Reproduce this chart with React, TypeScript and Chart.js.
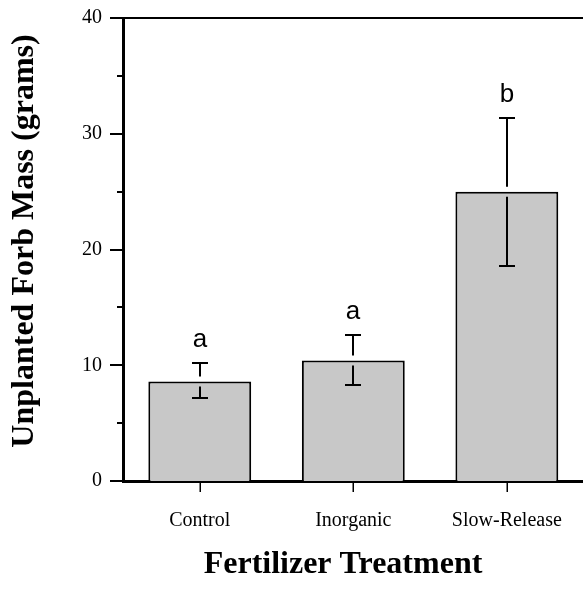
import React, { useEffect, useRef } from "react";
import { Chart, registerables } from "chart.js";

Chart.register(...registerables);

// Mean unplanted forb mass per fertilizer treatment, with error bar extents
const treatments = ["Control", "Inorganic", "Slow-Release"];
const meanMass = [8.6, 10.4, 25.0];
const errorUp = [1.6, 2.2, 6.35];
const errorDown = [1.45, 2.1, 6.4];
const groupLetters = ["a", "a", "b"];
const yMajorTicks = [0, 10, 20, 30, 40];
const yMinorTicks = [5, 15, 25, 35];

const SERIF = '"Liberation Serif", "Times New Roman", serif';
const SANS = '"Liberation Sans", Arial, sans-serif';

const xTitle = "Fertilizer Treatment";
const yTitle = "Unplanted Forb Mass (grams)";

// Draws the frame line, tick marks, error bars, group letters and axis titles
const decorations = {
  id: "decorations",
  afterDraw(chart: any) {
    const { ctx, chartArea, scales } = chart;
    const xs = scales.x;
    const ys = scales.y;
    const left = chartArea.left;
    const bottom = chartArea.bottom;
    ctx.save();
    ctx.strokeStyle = "#000";
    ctx.fillStyle = "#000";
    ctx.lineCap = "butt";

    // top frame line
    ctx.lineWidth = 2;
    ctx.beginPath();
    ctx.moveTo(left - 1, chartArea.top);
    ctx.lineTo(chartArea.right, chartArea.top);
    ctx.stroke();

    // y tick marks (major and minor)
    yMajorTicks.forEach((v) => {
      const py = Math.round(ys.getPixelForValue(v));
      ctx.beginPath();
      ctx.moveTo(left - 13, py);
      ctx.lineTo(left, py);
      ctx.stroke();
    });
    yMinorTicks.forEach((v) => {
      const py = Math.round(ys.getPixelForValue(v));
      ctx.beginPath();
      ctx.moveTo(left - 6, py);
      ctx.lineTo(left, py);
      ctx.stroke();
    });

    // x tick marks
    ctx.lineWidth = 1.5;
    treatments.forEach((_, i) => {
      const px = Math.round(xs.getPixelForValue(i)) + 0.25;
      ctx.beginPath();
      ctx.moveTo(px, bottom);
      ctx.lineTo(px, bottom + 11);
      ctx.stroke();
    });

    // error bars, with a small gap around the bar top
    const gap = 5;
    const capHalf = 8;
    ctx.lineWidth = 2;
    treatments.forEach((_, i) => {
      const px = Math.round(xs.getPixelForValue(i));
      const top = ys.getPixelForValue(meanMass[i]);
      const hi = Math.round(ys.getPixelForValue(meanMass[i] + errorUp[i]));
      const lo = Math.round(ys.getPixelForValue(meanMass[i] - errorDown[i]));
      ctx.beginPath();
      ctx.moveTo(px, hi);
      ctx.lineTo(px, top - gap);
      ctx.moveTo(px - capHalf, hi);
      ctx.lineTo(px + capHalf, hi);
      ctx.moveTo(px, top + gap);
      ctx.lineTo(px, lo);
      ctx.moveTo(px - capHalf, lo);
      ctx.lineTo(px + capHalf, lo);
      ctx.stroke();

      // group letter above the upper cap
      ctx.font = `26px ${SANS}`;
      ctx.textAlign = "center";
      ctx.textBaseline = "alphabetic";
      ctx.fillText(groupLetters[i], px, hi - 16);
    });

    // axis titles
    ctx.font = `bold 32px ${SERIF}`;
    ctx.textAlign = "center";
    ctx.textBaseline = "alphabetic";
    ctx.fillText(xTitle, 343, 573);

    ctx.translate(33, 241);
    ctx.rotate(-Math.PI / 2);
    ctx.fillText(yTitle, 0, 0);
    ctx.restore();
  },
};

export default function App() {
  const canvasRef = useRef<HTMLCanvasElement | null>(null);

  useEffect(() => {
    const canvas = canvasRef.current;
    if (!canvas) return;
    const chart = new Chart(canvas, {
      type: "bar",
      data: {
        labels: treatments,
        datasets: [
          {
            data: meanMass,
            backgroundColor: "#c8c8c8",
            borderColor: "#000",
            borderWidth: 2,
            categoryPercentage: 1,
            barPercentage: 0.67,
          },
        ],
      },
      plugins: [decorations],
      options: {
        responsive: false,
        animation: false,
        devicePixelRatio: 1,
        layout: { padding: { top: 18, left: 0, right: 1, bottom: 0 } },
        plugins: {
          legend: { display: false },
          tooltip: { enabled: false },
          title: { display: false },
        },
        scales: {
          x: {
            type: "category",
            offset: true,
            grid: { display: false, drawTicks: false },
            border: { display: true, color: "#000", width: 3 },
            ticks: {
              color: "#000",
              font: { family: SERIF, size: 20 },
              padding: 28,
              maxRotation: 0,
              autoSkip: false,
            },
            afterFit: (scale: any) => {
              scale.height = 111;
            },
          },
          y: {
            type: "linear",
            min: 0,
            max: 40,
            grid: { display: false, drawTicks: false },
            border: { display: true, color: "#000", width: 3 },
            ticks: {
              stepSize: 10,
              color: "#000",
              font: { family: SERIF, size: 20 },
              padding: 21,
            },
            afterFit: (scale: any) => {
              scale.width = 123;
              scale.paddingTop = 10;
              scale.paddingBottom = 10;
            },
          },
        },
      },
    });
    return () => chart.destroy();
  }, []);

  return (
    <div
      style={{
        position: "fixed",
        left: 0,
        top: 0,
        width: 583,
        height: 592,
        overflow: "hidden",
        background: "#fff",
      }}
    >
      <canvas ref={canvasRef} width={590} height={592} style={{ display: "block" }} />
    </div>
  );
}
